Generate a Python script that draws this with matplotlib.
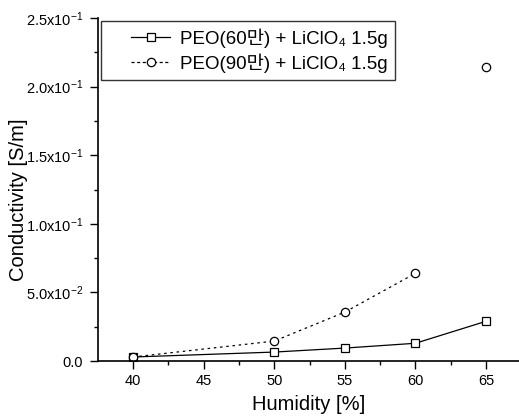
import matplotlib
matplotlib.use('Agg')
import matplotlib.pyplot as plt
from matplotlib.ticker import FixedLocator, MultipleLocator
from matplotlib.legend_handler import HandlerLine2D

plt.rcParams['font.family'] = ['Liberation Sans', 'Noto Sans CJK KR', 'DejaVu Sans']
plt.rcParams['mathtext.fontset'] = 'custom'
plt.rcParams['mathtext.rm'] = 'Liberation Sans'
plt.rcParams['mathtext.it'] = 'Liberation Sans'

humidity = [40, 50, 55, 60, 65]
peo60 = [0.003, 0.0066, 0.0095, 0.013, 0.029]
peo90 = [0.003, 0.0146, 0.0357, 0.064, 0.214]
labels = ['PEO(60만) + LiClO₄ 1.5g', 'PEO(90만) + LiClO₄ 1.5g']
yticks = [0.0, 0.05, 0.10, 0.15, 0.20, 0.25]
ytick_labels = ['0.0', r'$5.0\mathrm{x}10^{-2}$', r'$1.0\mathrm{x}10^{-1}$',
                r'$1.5\mathrm{x}10^{-1}$', r'$2.0\mathrm{x}10^{-1}$', r'$2.5\mathrm{x}10^{-1}$']

fig = plt.figure(figsize=(5.19, 4.17), dpi=100)
ax = fig.add_axes([0.189, 0.134, 0.811, 0.823])

l1, = ax.plot(humidity, peo60, '-', color='black', lw=0.9, marker='s', ms=6,
              mfc='white', mec='black', mew=0.9, label=labels[0])
# the 60-65 segment of this series is barely visible in the scan
ax.plot(humidity[:4], peo90[:4], color='black', lw=0.9, ls=(0, (2, 3)))
ax.plot(humidity, peo90, 'none', marker='o', ms=6, mfc='white',
        mec='black', mew=0.9)
l2, = ax.plot([], [], color='black', lw=0.9, ls=(0, (2.5, 2)), marker='o', ms=6,
              mfc='white', mec='black', mew=0.9, label=labels[1])

ax.set_xlim(37.52, 67.34)
ax.set_ylim(0, 0.25)
ax.xaxis.set_major_locator(FixedLocator([40, 45, 50, 55, 60, 65]))
ax.xaxis.set_minor_locator(MultipleLocator(2.5))
ax.set_yticks(yticks)
ax.set_yticklabels(ytick_labels)
ax.yaxis.set_minor_locator(MultipleLocator(0.025))
ax.tick_params(which='major', direction='out', length=6, width=1, labelsize=10.5)
ax.tick_params(axis='y', which='major', pad=5)
ax.tick_params(which='minor', direction='out', length=3, width=1)
ax.spines['top'].set_visible(False)
ax.spines['right'].set_visible(False)
ax.spines['left'].set_linewidth(1.2)
ax.spines['bottom'].set_linewidth(1.2)

ax.set_xlabel('Humidity [%]', fontsize=14.5, labelpad=5)
ax.set_ylabel('Conductivity [S/m]', fontsize=14.5)
ax.yaxis.set_label_coords(-0.166, 0.47)

hm = {l1: HandlerLine2D(xpad=1.2), l2: HandlerLine2D(xpad=1.2)}
leg = ax.legend(handles=[l1, l2], loc='upper left', bbox_to_anchor=(0.0, 1.0),
                fontsize=13.5, frameon=True, fancybox=False, edgecolor='black',
                handlelength=3.3, handletextpad=0.5, borderaxespad=0.15,
                labelspacing=0.3, handler_map=hm)
leg.get_frame().set_linewidth(1.0)

fig.savefig('out.png', dpi=100)
